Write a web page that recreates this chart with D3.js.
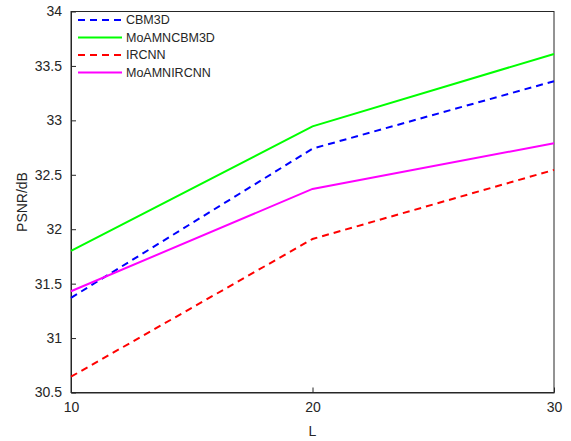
<!DOCTYPE html>
<html>
<head>
<meta charset="utf-8">
<script src="https://cdn.jsdelivr.net/npm/d3@7"></script>
<style>
  body { margin: 0; background: #fff; }
  text { font-family: "Liberation Sans", Arial, sans-serif; fill: #262626; }
</style>
</head>
<body>
<div class="canvas"></div>
<script>
// data
const L = [10, 20, 30]
const cbm3d = [31.37, 32.74, 33.36]
const moaCbm3d = [31.80, 32.945, 33.61]
const ircnn = [30.645, 31.91, 32.545]
const moaIrcnn = [31.43, 32.37, 32.79]
const xTicks = [10, 20, 30]
const yTicks = [30.5, 31, 31.5, 32, 32.5, 33, 33.5, 34]

const series = [
  {name: 'CBM3D', values: cbm3d, color: '#0000ff', dash: '7,5'},
  {name: 'MoAMNCBM3D', values: moaCbm3d, color: '#00ff00', dash: null},
  {name: 'IRCNN', values: ircnn, color: '#ff0000', dash: '7,5'},
  {name: 'MoAMNIRCNN', values: moaIrcnn, color: '#ff00ff', dash: null}
]

const margin = {top: 11.5, right: 17, bottom: 48.5, left: 71}
const width = 571, height = 441
const graphWidth = width - margin.left - margin.right
const graphHeight = height - margin.top - margin.bottom

const svg = d3.select('.canvas')
  .append('svg')
  .attr('width', width)
  .attr('height', height)

const graph = svg.append('g')
  .attr('transform', `translate(${margin.left}, ${margin.top})`)

const x = d3.scaleLinear().domain([10, 30]).range([0, graphWidth])
const y = d3.scaleLinear().domain([30.5, 34]).range([graphHeight, 0])

// box
graph.append('rect')
  .attr('width', graphWidth)
  .attr('height', graphHeight)
  .attr('fill', 'none')
  .attr('stroke', '#262626')
  .attr('stroke-width', 1)

const xAxis = d3.axisBottom(x).tickValues(xTicks).tickSizeInner(-5).tickSizeOuter(0).tickPadding(10).tickFormat(d3.format('d'))
const yAxis = d3.axisLeft(y).tickValues(yTicks).tickSizeInner(-5).tickSizeOuter(0).tickPadding(9).tickFormat(d => d)

const xAxisGroup = graph.append('g')
  .attr('transform', `translate(0, ${graphHeight})`)
  .call(xAxis)
const yAxisGroup = graph.append('g').call(yAxis)

;[xAxisGroup, yAxisGroup].forEach(g => {
  g.select('.domain').attr('stroke', '#262626')
  g.selectAll('.tick line').attr('stroke', '#262626')
  g.selectAll('text')
    .attr('font-size', 14)
    .attr('font-family', '"Liberation Sans", Arial, sans-serif')
    .attr('fill', '#262626')
})

const line = d3.line()
  .x((d, i) => x(L[i]))
  .y(d => y(d))

graph.selectAll('.series')
  .data(series)
  .enter()
  .append('path')
  .attr('class', 'series')
  .attr('d', d => line(d.values))
  .attr('fill', 'none')
  .attr('stroke', d => d.color)
  .attr('stroke-width', 2)
  .attr('stroke-dasharray', d => d.dash)

// legend, no box
const legend = graph.append('g')
  .attr('transform', 'translate(7, 8.5)')

const rows = legend.selectAll('g')
  .data(series)
  .enter()
  .append('g')
  .attr('transform', (d, i) => `translate(0, ${i * 17.5})`)

rows.append('line')
  .attr('x1', 0).attr('x2', 44)
  .attr('stroke', d => d.color)
  .attr('stroke-width', 2)
  .attr('stroke-dasharray', d => d.dash)

rows.append('text')
  .attr('x', 48)
  .attr('dy', '0.35em')
  .attr('font-size', 12.5)
  .attr('fill', '#000')
  .text(d => d.name)

// axis labels
svg.append('text')
  .attr('x', margin.left + graphWidth / 2)
  .attr('y', 436)
  .attr('text-anchor', 'middle')
  .attr('font-size', 14)
  .text('L')

svg.append('text')
  .attr('transform', `translate(27, ${margin.top + graphHeight / 2}) rotate(-90)`)
  .attr('text-anchor', 'middle')
  .attr('font-size', 14)
  .text('PSNR/dB')
</script>
</body>
</html>
